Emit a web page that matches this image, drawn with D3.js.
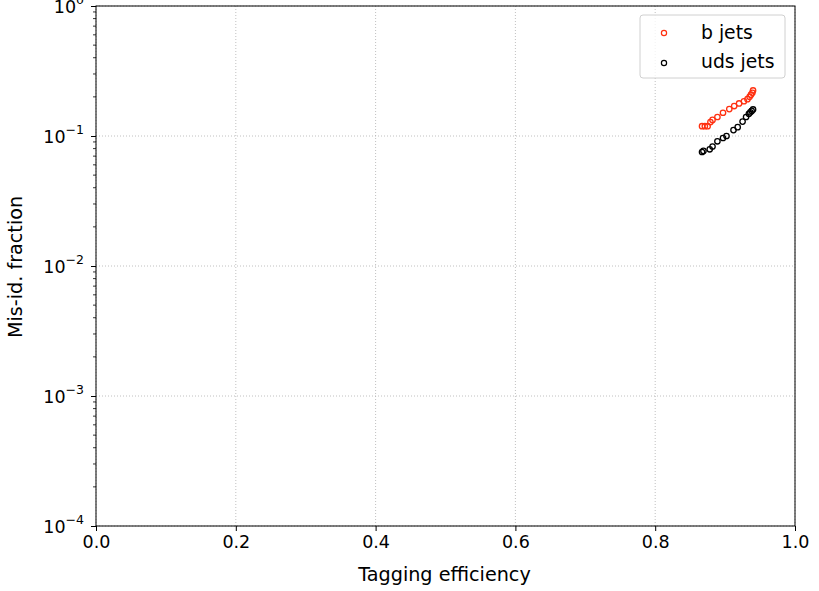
<!DOCTYPE html>
<html><head><meta charset="utf-8">
<script src="https://cdn.jsdelivr.net/npm/d3@7"></script>
<style>body{margin:0;background:#fff;} text{font-family:"DejaVu Sans",sans-serif;}</style>
</head><body>
<svg id="c" width="819" height="591"></svg>
<script>
const bEff = [0.867,0.871,0.875,0.879,0.882,0.889,0.897,0.906,0.913,0.920,0.927,0.932,0.935,0.937,0.939,0.940];
const bMis = [0.119,0.119,0.119,0.128,0.133,0.140,0.151,0.161,0.170,0.178,0.185,0.192,0.200,0.208,0.215,0.224];
const udsEff = [0.867,0.869,0.878,0.882,0.889,0.897,0.902,0.912,0.918,0.925,0.930,0.934,0.936,0.938,0.940];
const udsMis = [0.0753,0.0768,0.079,0.083,0.091,0.0965,0.100,0.111,0.117,0.129,0.140,0.148,0.152,0.156,0.160];
const xTicks = [0.0,0.2,0.4,0.6,0.8,1.0];
const yTicks = [1e-4,1e-3,1e-2,1e-1,1];
const seriesNames = ["b jets","uds jets"];
const colors = ["#ff3010","#000000"];

const svg = d3.select("#c");
const L=96,R=795,T=6,B=526;
const x = d3.scaleLinear().domain([0,1]).range([L,R]);
const y = d3.scaleLog().domain([1e-4,1]).range([B,T]);
const FS = "17.5px";

// grid
const g = svg.append("g");
g.selectAll(".gx").data(xTicks).enter().append("line")
  .attr("x1",d=>x(d)).attr("x2",d=>x(d)).attr("y1",T).attr("y2",B)
  .attr("stroke","#b0b0b0").attr("stroke-width",0.8).attr("stroke-dasharray","1,2");
g.selectAll(".gy").data(yTicks).enter().append("line")
  .attr("x1",L).attr("x2",R).attr("y1",d=>y(d)).attr("y2",d=>y(d))
  .attr("stroke","#b0b0b0").attr("stroke-width",0.8).attr("stroke-dasharray","1,2");

// axes
const fmt = d3.format(".1f");
const xAxis = svg.append("g").attr("transform",`translate(0,${B})`)
  .call(d3.axisBottom(x).tickValues(xTicks).tickFormat(fmt).tickSize(5).tickPadding(5));
xAxis.select(".domain").remove();
xAxis.selectAll("text").attr("font-size",FS).attr("font-family","DejaVu Sans").attr("fill","#000");
xAxis.selectAll("line").attr("stroke","#000").attr("stroke-width",1);

const yAxis = svg.append("g").attr("transform",`translate(${L},0)`)
  .call(d3.axisLeft(y).tickValues(yTicks).tickFormat("").tickSize(5));
yAxis.select(".domain").remove();
yAxis.selectAll("line").attr("stroke","#000").attr("stroke-width",1);
// minor ticks
const minors=[];
for(let e=-4;e<0;e++){for(let m=2;m<=9;m++)minors.push(m*Math.pow(10,e));}
svg.append("g").selectAll("line").data(minors).enter().append("line")
  .attr("x1",L-3).attr("x2",L).attr("y1",d=>y(d)).attr("y2",d=>y(d))
  .attr("stroke","#000").attr("stroke-width",0.8);
// y tick labels
const yl = svg.append("g").selectAll("text").data(yTicks).enter().append("text")
  .attr("x",L-12).attr("y",d=>y(d)+7).attr("text-anchor","end")
  .attr("font-size",FS).attr("fill","#000");
yl.append("tspan").text("10");
yl.append("tspan").attr("dy",-9).attr("font-size","12.5px")
  .text(d=>{const e=Math.round(Math.log10(d));return e<0?"\u2212"+(-e):String(e);});

// spines
svg.append("rect").attr("x",L).attr("y",T).attr("width",R-L).attr("height",B-T)
  .attr("fill","none").attr("stroke","#000").attr("stroke-width",1);

// labels
svg.append("text").attr("x",(L+R)/2 - 1).attr("y",581).attr("text-anchor","middle")
  .attr("font-size","19.2px").text("Tagging efficiency");
svg.append("text").attr("transform",`translate(22,${(T+B)/2 + 1}) rotate(-90)`)
  .attr("text-anchor","middle").attr("font-size","19.2px").text("Mis-id. fraction");

// data
const series=[{e:bEff,m:bMis},{e:udsEff,m:udsMis}];
series.forEach((s,i)=>{
  svg.append("g").selectAll("circle").data(s.e.map((v,j)=>[v,s.m[j]])).enter().append("circle")
    .attr("cx",d=>x(d[0])).attr("cy",d=>y(d[1])).attr("r",2.7)
    .attr("fill","none").attr("stroke",colors[i]).attr("stroke-width",1.3);
});

// legend
const lg = svg.append("g");
lg.append("rect").attr("x",640).attr("y",15).attr("width",145).attr("height",63).attr("rx",3)
  .attr("fill","#fff").attr("fill-opacity",0.8).attr("stroke","#d0d0d0").attr("stroke-width",1);
seriesNames.forEach((n,i)=>{
  lg.append("circle").attr("cx",664).attr("cy",33+i*30).attr("r",2.6)
    .attr("fill","none").attr("stroke",colors[i]).attr("stroke-width",1.2);
  lg.append("text").attr("x",701).attr("y",38.5+i*29).attr("font-size","18.8px").text(n);
});
</script>
</body></html>
